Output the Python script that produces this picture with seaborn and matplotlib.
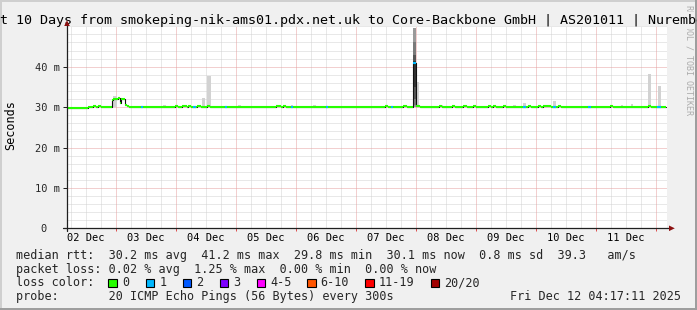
import numpy as np
import matplotlib
matplotlib.use("Agg")
import matplotlib.pyplot as plt
import seaborn as sns
from matplotlib.patches import Polygon, Rectangle
from matplotlib.lines import Line2D

# ---------------- data ----------------
title = "Last 10 Days from smokeping-nik-ams01.pdx.net.uk to Core-Backbone GmbH | AS201011 | Nuremberg"
day_labels = ["02 Dec", "03 Dec", "04 Dec", "05 Dec", "06 Dec",
              "07 Dec", "08 Dec", "09 Dec", "10 Dec", "11 Dec"]
first_midnight_h = 19.4      # hours from graph start to 03 Dec 00:00
span_h = 240

y_ticks = [0, 10, 20, 30, 40]
y_tick_labels = ["0  ", "10 m", "20 m", "30 m", "40 m"]

# median rtt (ms), step series: change times (hours) and values
median_t = [0, 8.4, 10.4, 11.6, 12.4, 13.6, 18.0, 18.4, 20.4, 21.2, 21.6, 23.2, 24.0, 24.8,
            43.2, 44.4, 46.0, 48.0, 48.4, 49.6, 52.0, 53.6, 56.0, 57.2, 83.6, 85.6, 86.4, 87.6,
            127.2, 128.4, 134.4, 136.0, 138.2, 139.6, 141.2, 148.8, 150.0, 154.0, 155.2, 158.4, 160.0,
            162.4, 163.6, 168.4, 169.6, 170.4, 171.6, 174.4, 175.6, 184.4, 185.6, 188.4, 189.6, 190.4, 193.6,
            196.4, 197.6, 217.2, 218.4, 232.4, 233.6, 239.5]
median_ms = [29.7, 30.0, 30.3, 30.0, 30.3, 30.0, 31.8, 32.1, 32.3, 31.0, 32.0, 30.5, 30.2, 30.0,
             30.3, 30.0, 30.3, 30.0, 30.3, 30.0, 30.3, 30.0, 30.3, 30.0, 30.3, 30.0, 30.3, 30.0,
             30.3, 30.0, 30.3, 30.0, 41.0, 30.3, 30.0, 30.3, 30.0, 30.3, 30.0, 30.3, 30.0,
             30.3, 30.0, 30.3, 30.0, 30.3, 30.0, 30.3, 30.0, 30.3, 30.0, 30.3, 30.0, 30.3, 30.0,
             30.3, 30.0, 30.3, 30.0, 30.3, 30.0, 30.0]

# samples with 1 lost ping (of 20)
loss_t0 = [29.6, 50.4, 63.2, 89.6, 103.6, 129.6, 138.2, 182.4, 194.4, 208.4, 236.0]
loss_t1 = [30.4, 51.6, 64.0, 90.4, 104.4, 130.4, 139.6, 183.6, 195.6, 209.6, 237.6]

# smoke (ping spread) events
smoke_t0 = [18.4, 38.4, 54.0, 56.0, 68.4, 89.6, 98.4, 139.6, 149.2, 178.4, 182.4, 194.4, 221.6, 225.6, 232.4, 236.4]
smoke_t1 = [20.0, 39.6, 55.2, 57.6, 69.6, 90.4, 99.6, 140.8, 150.4, 179.6, 183.6, 195.6, 222.4, 226.4, 233.6, 237.6]
smoke_lo = [30.0, 30.0, 30.0, 30.0, 30.0, 30.0, 30.0, 30.0, 30.0, 30.0, 30.0, 30.0, 30.0, 30.0, 30.0, 30.0]
smoke_hi = [32.8, 30.5, 32.2, 37.6, 30.4, 30.6, 30.4, 36.3, 30.4, 30.5, 30.9, 31.4, 30.6, 30.8, 38.3, 35.1]

# spike on 07 Dec: nested ping bands
spike_t0, spike_t1 = 138.2, 139.6
spike_lo = [30.0, 30.5, 32.0, 35.0]
spike_hi = [49.6, 46.0, 43.0, 41.5]
spike_shade = ["#9a9a9a", "#7a7a7a", "#555555", "#333333"]

loss_labels = ["0", "1", "2", "3", "4-5", "6-10", "11-19", "20/20"]
loss_colors = ["#26ff00", "#00b8ff", "#0059ff", "#7e00ff", "#ff00ff", "#ff5500", "#ff0000", "#a10000"]

row_rtt = "median rtt:  30.2 ms avg  41.2 ms max  29.8 ms min  30.1 ms now  0.8 ms sd  39.3   am/s"
row_loss = "packet loss: 0.02 % avg  1.25 % max  0.00 % min  0.00 % now"
row_color = "loss color:"
row_probe = "probe:       20 ICMP Echo Pings (56 Bytes) every 300s"
stamp = "Fri Dec 12 04:17:11 2025"
watermark = "RRDTOOL / TOBI OETIKER"

# ---------------- style ----------------
sns.set_style("white")
plt.rcParams["font.family"] = ["DejaVu Sans Mono"]
MONO = "DejaVu Sans Mono"

W, H = 697, 310
def fx(x): return x / W
def fy(y): return 1 - y / H

fig = plt.figure(figsize=(W / 100, H / 100), dpi=100)
fig.patch.set_facecolor("#f0f0f0")

# frame shading
fig.add_artist(Rectangle((0, fy(2)), 1, 2 / H, transform=fig.transFigure, color="#cfcfcf", lw=0, zorder=0))
fig.add_artist(Rectangle((0, 0), 2 / W, 1, transform=fig.transFigure, color="#cfcfcf", lw=0, zorder=0))
fig.add_artist(Rectangle((0, 0), 1, 2 / H, transform=fig.transFigure, color="#9e9e9e", lw=0, zorder=0))
fig.add_artist(Rectangle((fx(695), 0), 2 / W, 1, transform=fig.transFigure, color="#9e9e9e", lw=0, zorder=0))

ax = fig.add_axes([fx(67), fy(228.3), 600 / W, 202 / H])
ax.set_facecolor("white")
for s in ax.spines.values():
    s.set_visible(False)
ax.set_xlim(0, span_h)
ax.set_ylim(0, 50)

# grid
day_lines = [first_midnight_h + 24 * k for k in range(10)]
six_h = [first_midnight_h - 18 + 6 * k for k in range(41)]
minor_x = [h for h in six_h if 0 < h < span_h and all(abs(h - d) > 0.1 for d in day_lines)]
minor_y = [v for v in range(2, 51, 2) if v % 10 != 0 or v == 50]
dots = (0, (1, 1))
ax.vlines(minor_x, 0, 50, colors="#d2d2d2", linestyles=dots, lw=0.72, zorder=0.5)
ax.hlines(minor_y, 0, span_h, colors="#d2d2d2", linestyles=dots, lw=0.72, zorder=0.5)
ax.vlines(day_lines, 0, 50, colors="#e6a0a0", linestyles=dots, lw=0.72, zorder=0.6)
ax.hlines([10, 20, 30, 40], 0, span_h, colors="#e6a0a0", linestyles=dots, lw=0.72, zorder=0.6)

# smoke
ax.bar(smoke_t0, np.array(smoke_hi) - np.array(smoke_lo), bottom=smoke_lo,
       width=np.array(smoke_t1) - np.array(smoke_t0), align="edge", color="#d2d2d2", lw=0, zorder=2)
for lo, hi, c in zip(spike_lo, spike_hi, spike_shade):
    ax.bar([spike_t0], [hi - lo], bottom=[lo], width=spike_t1 - spike_t0, align="edge",
           color=c, lw=0, zorder=2)

# median line: dark connector steps, then coloured horizontals
mt = np.array(median_t)
mv = np.array(median_ms)
sns.lineplot(x=mt, y=mv, ax=ax, color="#111111", lw=0.8, drawstyle="steps-post",
             estimator=None, sort=False, zorder=3)
ax.hlines(mv[:-1], mt[:-1], mt[1:], colors=loss_colors[0], lw=1.5, zorder=4)
idx = np.searchsorted(mt, loss_t0, side="right") - 1
ax.hlines(mv[idx], loss_t0, loss_t1, colors=loss_colors[1], lw=1.5, zorder=5)

# ticks
ax.set_yticks(y_ticks)
ax.set_yticklabels(y_tick_labels, fontsize=7.5, family=MONO)
ax.tick_params(axis="y", length=3.1, width=0.72, color="#202020", pad=2, left=True)
ax.set_xticks([])
noon = [first_midnight_h - 12 + 24 * k for k in range(10)]
for h, lab in zip(noon, day_labels):
    ax.text(h, -12.7 / 202, lab, transform=ax.get_xaxis_transform(), ha="center", va="baseline",
            fontsize=7.5, family=MONO, color="black")
ax.vlines(day_lines, -2.5 / 202, 0, transform=ax.get_xaxis_transform(), colors="#de5050",
          lw=0.72, clip_on=False, zorder=6)

# axis lines + arrows
fig.add_artist(Line2D([fx(62.7), fx(669)], [fy(228.3), fy(228.3)], color="#202020", lw=0.9, zorder=7))
fig.add_artist(Line2D([fx(67), fx(67)], [fy(231), fy(25)], color="#202020", lw=0.9, zorder=7))
fig.add_artist(Polygon([[fx(67), fy(20.3)], [fx(64.2), fy(26)], [fx(69.8), fy(26)]], closed=True,
                       transform=fig.transFigure, color="#8b1010", lw=0, zorder=8))
fig.add_artist(Polygon([[fx(674.8), fy(228.3)], [fx(669), fy(225.5)], [fx(669), fy(231.1)]], closed=True,
                       transform=fig.transFigure, color="#8b1010", lw=0, zorder=8))

# texts
fig.text(fx(688.5), fy(5), watermark, rotation=270, ha="center", va="top", fontsize=6,
         family=MONO, color="#ababab", zorder=1)
fig.add_artist(Rectangle((fx(683), fy(29)), 11 / W, 17 / H, transform=fig.transFigure,
                         color="#f0f0f0", lw=0, zorder=2))
fig.text(0.5, fy(24.3), title, ha="center", va="baseline", fontsize=9.6, family=MONO,
         color="black", zorder=5)
fig.text(fx(10.5), fy(125), "Seconds", rotation=90, ha="center", va="center",
         fontsize=8.5, family=MONO, color="black")

fig.text(fx(16), fy(258.5), row_rtt, ha="left", va="baseline", fontsize=8.5, family=MONO)
fig.text(fx(16), fy(272.5), row_loss, ha="left", va="baseline", fontsize=8.5, family=MONO)
fig.text(fx(16), fy(286.5), row_color, ha="left", va="baseline", fontsize=8.5, family=MONO)
fig.text(fx(16), fy(300.3), row_probe, ha="left", va="baseline", fontsize=8.5, family=MONO)
fig.text(fx(681), fy(300.3), stamp, ha="right", va="baseline", fontsize=8.5, family=MONO)

box_x = [108.3, 145.7, 182.7, 219.7, 256.7, 307.0, 365.3, 430.7]
for bx, lab, c in zip(box_x, loss_labels, loss_colors):
    fig.add_artist(Rectangle((fx(bx), fy(287)), 8.5 / W, 8.5 / H, transform=fig.transFigure,
                             facecolor=c, edgecolor="black", lw=0.8, zorder=3))
    fig.text(fx(bx + 13.5), fy(286.5), lab, ha="left", va="baseline", fontsize=8.5, family=MONO)

fig.savefig("out.png", dpi=100, facecolor=fig.get_facecolor())
